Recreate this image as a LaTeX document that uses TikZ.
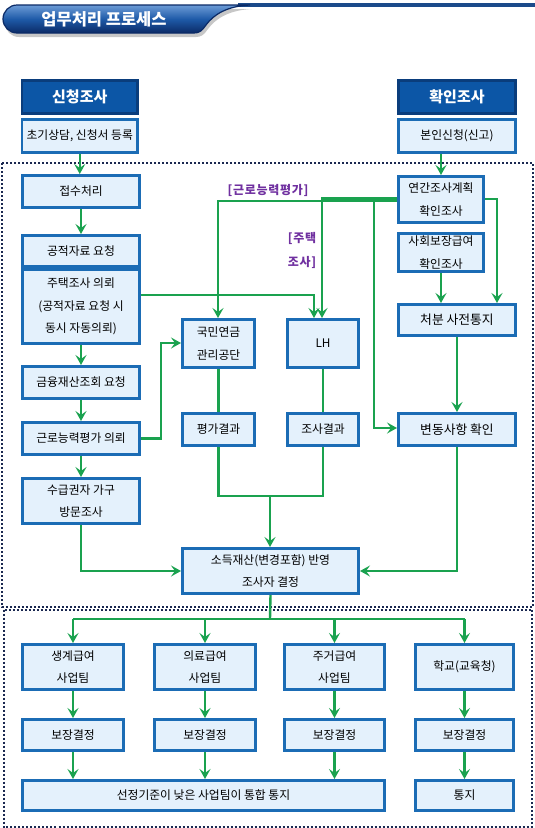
\documentclass[tikz,border=0pt]{standalone}
\usepackage{fontspec}
\setmainfont{Noto Sans CJK KR}
\usetikzlibrary{arrows.meta}
\definecolor{bxborder}{HTML}{1B6CB5}
\definecolor{bxfill}{HTML}{E4F1FC}
\definecolor{hdfill}{HTML}{0C56A6}
\definecolor{hdborder}{HTML}{0A3D7C}
\definecolor{grn}{HTML}{1AA24F}
\definecolor{purp}{HTML}{7030A0}
\definecolor{dotc}{HTML}{1A2850}
\definecolor{tabtop}{HTML}{6C9BD6}
\definecolor{tabmid}{HTML}{1E5AA8}
\definecolor{tabbot}{HTML}{0B2A66}
\definecolor{tabline}{HTML}{1B4A8A}
\newcommand\mkbox[7][box]{\node[#1,minimum width={(#5-#3-2.6)*1pt},minimum height={(#6-#4-2.6)*1pt}] (#2) at ({(#3+#5)/2},{(#4+#6)/2}) {#7};}
\begin{document}
\begin{tikzpicture}[x=1pt,y=-1pt,
  box/.style={draw=bxborder,fill=bxfill,line width=2.6pt,inner sep=0pt,align=center,font=\fontsize{11.8}{22.5}\selectfont},
  bigbox/.style={box,font=\fontsize{12.8}{22.5}\selectfont},
  hdr/.style={draw=hdborder,fill=hdfill,line width=2.6pt,inner sep=0pt,text=white,font=\bfseries\fontsize{15}{17}\selectfont},
  flow/.style={draw=grn,line width=2.4pt,-{Stealth[length=10pt,width=11pt,inset=4pt]}},
  link/.style={draw=grn,line width=2.4pt},
  lbl/.style={text=purp,inner sep=0pt,align=left,font=\bfseries\fontsize{12}{24}\selectfont\addfontfeatures{LetterSpace=6}},
  frame/.style={draw=dotc,line width=2pt,dash pattern=on 2pt off 2pt}]
\fill[white] (0,0) rectangle (535,828);
\useasboundingbox (0,0) rectangle (535,828);

% ---- title tab ----
\fill[black,opacity=0.22] (19,9) -- (252,9) .. controls (230,10) and (216,18) .. (208,29) .. controls (204,35) and (201,37) .. (196,37) -- (19,37) arc[start angle=270,end angle=90,radius=14pt] -- cycle;
\fill[tabline] (238,3) rectangle (535,6.5);
\path[draw=tabbot,line width=1.2pt,top color=tabtop,bottom color=tabbot,middle color=tabmid]
  (17,5) -- (250,5) .. controls (228,6) and (214,14) .. (206,25) .. controls (202,31) and (199,33) .. (194,33) -- (17,33) arc[start angle=270,end angle=90,radius=14pt] -- cycle;
\node[text=white,font=\bfseries\fontsize{16.5}{18}\selectfont] (title) at (104,19) {업무처리 프로세스};

% ---- dotted frames ----
\draw[frame] (2,163) rectangle (533,607);
\draw[frame] (3.5,609.5) rectangle (532,826.5);

% ---- header boxes ----
\mkbox[hdr]{h1}{20.5}{79}{139}{115}{신청조사}
\mkbox[hdr]{h2}{397}{79}{517}{115}{확인조사}
\mkbox{a0}{20.5}{118}{139}{154}{초기상담, 신청서 등록}
\mkbox{b0}{397}{118}{517}{154}{본인신청(신고)}

% ---- left column ----
\mkbox{a1}{21}{174}{141}{209}{접수처리}
\mkbox{a2}{21}{234}{141}{268}{공적자료 요청}
\mkbox{a3}{21}{268}{141}{345}{주택조사 의뢰\\(공적자료 요청 시\\동시 자동의뢰)}
\mkbox{a4}{21}{365}{141}{400}{금융재산조회 요청}
\mkbox{a5}{21}{421}{141}{456}{근로능력평가 의뢰}
\mkbox{a6}{21}{477}{141}{525}{수급권자 가구\\방문조사}

% ---- middle ----
\mkbox{m1}{181}{318}{256}{369}{국민연금\\관리공단}
\mkbox{m2}{286}{318}{360}{369}{LH}
\mkbox{m3}{181}{412}{256}{447}{평가결과}
\mkbox{m4}{286}{412}{360}{447}{조사결과}
\mkbox{m5}{181}{547}{360}{595}{소득재산(변경포함) 반영\\조사자 결정}

% ---- right column ----
\mkbox{r1}{397}{175}{485}{224}{연간조사계획\\확인조사}
\mkbox{r2}{397}{232}{485}{273}{사회보장급여\\확인조사}
\mkbox[bigbox]{r3}{397}{303}{517}{337}{처분 사전통지}
\mkbox[bigbox]{r4}{397}{412}{517}{447}{변동사항 확인}

% ---- labels ----
\node[lbl] (lb1) at (268,190) {[근로능력평가]};
\node[lbl] (lb2) at (302,250) {[주택\\조사]};

% ---- bottom ----
\mkbox{c1}{21}{643}{125}{691}{생계급여\\사업팀}
\mkbox{c2}{153}{643}{257}{691}{의료급여\\사업팀}
\mkbox{c3}{283}{643}{386}{691}{주거급여\\사업팀}
\mkbox{c4}{414}{643}{515}{691}{학교(교육청)}
\mkbox{d1}{21}{718}{125}{752}{보장결정}
\mkbox{d2}{153}{718}{257}{752}{보장결정}
\mkbox{d3}{283}{718}{386}{752}{보장결정}
\mkbox{d4}{414}{718}{515}{752}{보장결정}
\mkbox{e1}{21}{779}{386}{812}{선정기준이 낮은 사업팀이 통합 통지}
\mkbox{e4}{414}{779}{515}{812}{통지}

% ---- coordinates ----
\coordinate (j1) at (314,295);
\coordinate (j2) at (161,343);
\coordinate (j3) at (218,201);
\coordinate (j4) at (322,198.5);
\coordinate (j5) at (374,200);
\coordinate (j6) at (374,428);
\coordinate (j7) at (497,199);
\coordinate (j8) at (270,496);
\coordinate (k0) at (270,619);

% ---- connectors ----
\draw[flow] (a0.south) -- (a0.south |- a1.north);
\draw[flow] (r1.north |- b0.south) -- (r1.north);
\draw[flow] (a1) -- (a2);
\draw[flow] (a3) -- (a4);
\draw[flow] (a4) -- (a5);
\draw[flow] (a5) -- (a6);
\draw[flow] (a3.east |- j1) -- (j1) -- (j1 |- m2.north);
\draw[flow] (a5.east) -| (j2) -- (m1.west |- j2);
\draw[flow] (r1.west |- j3) -- (j3) -- (j3 |- m1.north);
\draw[flow] (r1.west |- j4) -- (j4) -- (j4 |- m2.north);
\draw[flow] (j5) -- (j6) -- (r4.west |- j6);
\draw[flow] (r1.east |- j7) -- (j7) -- (j7 |- r3.north);
\draw[flow] (r2.south) -- (r2.south |- r3.north);
\draw[flow] (r3) -- (r4);
\draw[link] (m1) -- (m3);
\draw[link] (m2) -- (m4);
\draw[link] (m3.south) |- (j8) -| (m4.south);
\draw[flow] (j8) -- (j8 |- m5.north);
\draw[flow] (a6.south) |- (m5.west);
\draw[flow] (r4.south) |- (m5.east);
\draw[link] (m5.south) -- (k0);
\draw[link] (c1.north |- k0) -- (c4.north |- k0);
\foreach \c in {c1,c2,c3,c4} {\draw[flow] (\c.north |- k0) -- (\c.north);}
\draw[flow] (c1) -- (d1);
\draw[flow] (c2) -- (d2);
\draw[flow] (c3) -- (d3);
\draw[flow] (c4) -- (d4);
\draw[flow] (d1.south) -- (d1.south |- e1.north);
\draw[flow] (d2.south) -- (d2.south |- e1.north);
\draw[flow] (d3.south) -- (d3.south |- e1.north);
\draw[flow] (d4) -- (e4);
\end{tikzpicture}
\end{document}
